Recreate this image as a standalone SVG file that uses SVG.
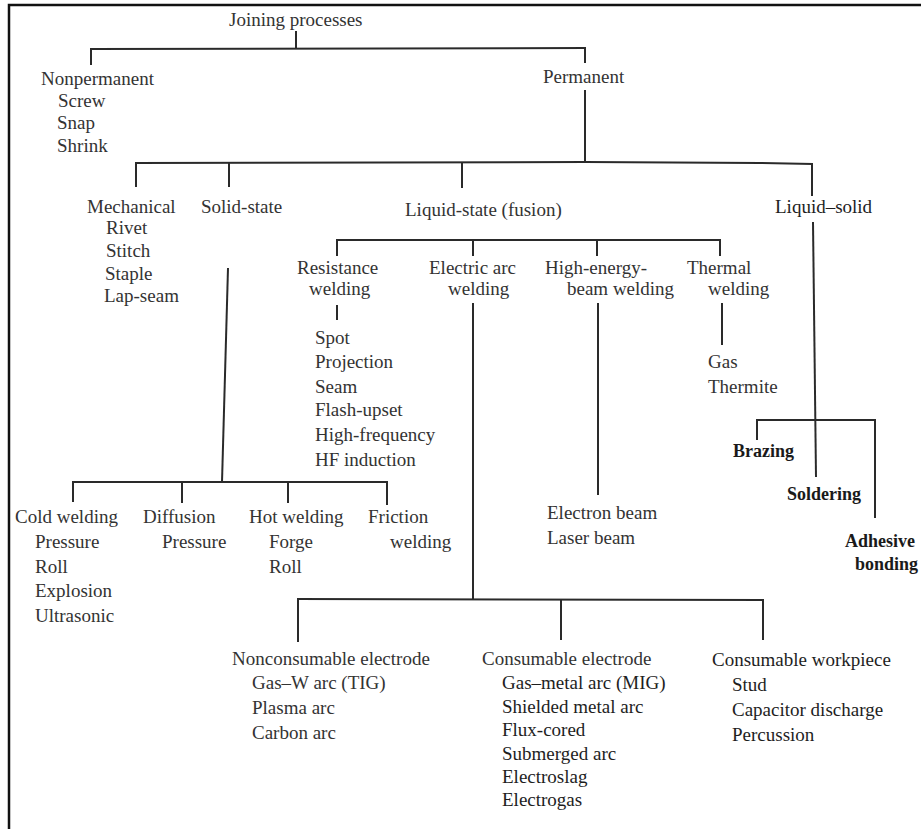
<svg xmlns="http://www.w3.org/2000/svg" width="921" height="829" viewBox="0 0 921 829">
<style>
text{font-family:"Liberation Serif","Times New Roman",serif;font-size:19px;fill:#333;}
.b{font-weight:bold;fill:#1a1a1a;font-size:18px;}
.d{fill:#1e1e1e;}
#connectors line,#connectors polyline{stroke:#2a2a2a;stroke-width:2;fill:none;}
.frame{stroke:#111;stroke-width:2.5;fill:none;}
</style>
<rect x="0" y="0" width="921" height="829" fill="#ffffff"/>
<polyline class="frame" points="9,829 9,5 921,5"/>

<g id="connectors">
  <line x1="296" y1="31" x2="296" y2="49"/>
  <line x1="90" y1="49" x2="586" y2="48"/>
  <line x1="91" y1="49" x2="91" y2="65"/>
  <line x1="585" y1="48" x2="585" y2="63"/>
  <line x1="585" y1="90" x2="585" y2="162"/>
  <polyline points="135,163 585,162 760,163 813,164"/>
  <line x1="136" y1="163" x2="136" y2="187"/>
  <line x1="229" y1="163" x2="229" y2="187"/>
  <line x1="462" y1="162" x2="462" y2="188"/>
  <line x1="812" y1="164" x2="812" y2="196"/>
  <line x1="228" y1="268" x2="222" y2="482"/>
  <line x1="72" y1="482" x2="388" y2="482"/>
  <line x1="73" y1="482" x2="73" y2="502"/>
  <line x1="182" y1="482" x2="182" y2="503"/>
  <line x1="288" y1="482" x2="288" y2="503"/>
  <line x1="387" y1="482" x2="387" y2="505"/>
  <line x1="336" y1="240" x2="721" y2="240"/>
  <line x1="337" y1="240" x2="337" y2="256"/>
  <line x1="473" y1="240" x2="473" y2="256"/>
  <line x1="597" y1="240" x2="597" y2="256"/>
  <line x1="720" y1="240" x2="720" y2="256"/>
  <line x1="337" y1="305" x2="337" y2="320"/>
  <line x1="473" y1="303" x2="473" y2="600"/>
  <line x1="598" y1="303" x2="598" y2="495"/>
  <line x1="722" y1="303" x2="722" y2="345"/>
  <line x1="297" y1="599" x2="764" y2="600"/>
  <line x1="298" y1="599" x2="298" y2="642"/>
  <line x1="561" y1="599" x2="561" y2="640"/>
  <line x1="763" y1="600" x2="763" y2="640"/>
  <line x1="813" y1="222" x2="816" y2="477"/>
  <line x1="756" y1="420" x2="876" y2="420"/>
  <line x1="757" y1="420" x2="757" y2="440"/>
  <line x1="875" y1="420" x2="875" y2="518"/>
</g>

<g id="joining"><text x="229" y="26">Joining processes</text></g>
<g id="nonpermanent">
  <text x="41" y="85">Nonpermanent</text>
  <text x="58" y="107">Screw</text>
  <text x="57" y="129">Snap</text>
  <text x="57" y="152">Shrink</text>
</g>
<g id="permanent"><text x="543" y="83">Permanent</text></g>
<g id="mechanical">
  <text x="87" y="213">Mechanical</text>
  <text x="106" y="234">Rivet</text>
  <text x="106" y="257">Stitch</text>
  <text x="105" y="280">Staple</text>
  <text x="104" y="302">Lap-seam</text>
</g>
<g id="solid-state"><text x="201" y="213">Solid-state</text></g>
<g id="liquid-state"><text x="405" y="216">Liquid-state (fusion)</text></g>
<g id="liquid-solid"><text class="d" x="775" y="213">Liquid–solid</text></g>

<g id="resistance">
  <text x="297" y="274">Resistance</text>
  <text x="309" y="295">welding</text>
  <text x="315" y="344">Spot</text>
  <text x="315" y="368">Projection</text>
  <text x="315" y="393">Seam</text>
  <text x="315" y="416">Flash-upset</text>
  <text x="315" y="441">High-frequency</text>
  <text x="315" y="466">HF induction</text>
</g>
<g id="electric-arc">
  <text x="429" y="274">Electric arc</text>
  <text x="448" y="295">welding</text>
</g>
<g id="high-energy">
  <text x="545" y="274">High-energy-</text>
  <text x="567" y="295">beam welding</text>
  <text x="547" y="519">Electron beam</text>
  <text x="547" y="544">Laser beam</text>
</g>
<g id="thermal">
  <text x="687" y="274">Thermal</text>
  <text x="708" y="295">welding</text>
  <text x="708" y="368">Gas</text>
  <text x="708" y="393">Thermite</text>
</g>

<g id="cold-welding">
  <text x="15" y="523">Cold welding</text>
  <text x="35" y="548">Pressure</text>
  <text x="35" y="573">Roll</text>
  <text x="35" y="597">Explosion</text>
  <text x="35" y="622">Ultrasonic</text>
</g>
<g id="diffusion">
  <text x="143" y="523">Diffusion</text>
  <text x="162" y="548">Pressure</text>
</g>
<g id="hot-welding">
  <text x="249" y="523">Hot welding</text>
  <text x="269" y="548">Forge</text>
  <text x="269" y="573">Roll</text>
</g>
<g id="friction">
  <text x="368" y="523">Friction</text>
  <text x="390" y="548">welding</text>
</g>

<g id="brazing"><text class="b" x="733" y="457">Brazing</text></g>
<g id="soldering"><text class="b" x="787" y="500">Soldering</text></g>
<g id="adhesive">
  <text class="b" x="845" y="547">Adhesive</text>
  <text class="b" x="855" y="570">bonding</text>
</g>

<g id="nonconsumable">
  <text x="232" y="665">Nonconsumable electrode</text>
  <text x="252" y="689">Gas–W arc (TIG)</text>
  <text x="252" y="714">Plasma arc</text>
  <text x="252" y="739">Carbon arc</text>
</g>
<g id="consumable-electrode">
  <text x="482" y="665">Consumable electrode</text>
  <text class="d" x="502" y="689">Gas–metal arc (MIG)</text>
  <text class="d" x="502" y="713">Shielded metal arc</text>
  <text class="d" x="502" y="736">Flux-cored</text>
  <text class="d" x="502" y="760">Submerged arc</text>
  <text class="d" x="502" y="783">Electroslag</text>
  <text class="d" x="502" y="806">Electrogas</text>
</g>
<g id="consumable-workpiece">
  <text class="d" x="712" y="666">Consumable workpiece</text>
  <text class="d" x="732" y="691">Stud</text>
  <text class="d" x="732" y="716">Capacitor discharge</text>
  <text class="d" x="732" y="741">Percussion</text>
</g>
</svg>
